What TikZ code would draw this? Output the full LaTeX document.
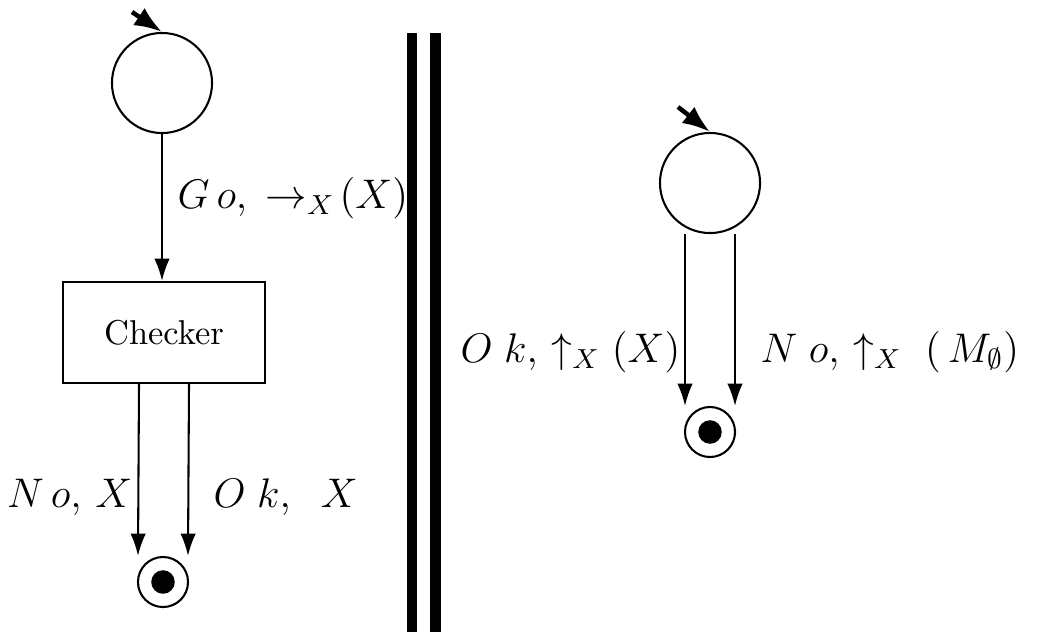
\documentclass[tikz,border=0pt]{standalone}
\usepackage{amsmath}
\usepackage{amssymb}
\usepackage{tikz}
\usetikzlibrary{calc, arrows.meta}

\begin{document}
\begin{tikzpicture}[x=0.0102cm, y=-0.0102cm,
    state/.style={draw, circle, line width=0.6pt, minimum size=1.02cm, inner sep=0pt},
    finalstate/.style={draw, circle, line width=0.6pt, minimum size=0.51cm, inner sep=0pt,
        path picture={\fill (path picture bounding box.center) circle (0.12cm);}},
    checkbox/.style={draw, rectangle, line width=0.6pt, minimum width=2.06cm, minimum height=1.03cm},
    trans/.style={-{Latex[length=6.5pt,width=4.5pt]}, line width=0.6pt},
    initarrow/.style={-{Latex[length=8pt,width=6pt]}, line width=1.3pt},
    lbl/.style={font=\large, inner sep=0pt}]
    \useasboundingbox (0,0) rectangle (1038,634);
    % Left automaton: initial state, checker box, final state
    \node[state] (s1) at (162,83) {};
    \node[checkbox] (chk) at (164,332.5) {Checker};
    \node[finalstate] (f1) at (163,582) {};
    \coordinate (in1) at (132,12);
    \draw[initarrow] (in1) -- (s1.north);
    \draw[trans] (s1.south) -- (s1.south |- chk.north);
    \draw[trans] ($(chk.south)+(-25,0)$) -- ($(f1.north)+(-25,0)$);
    \draw[trans] ($(chk.south)+(25,0)$) -- ($(f1.north)+(25,0)$);
    \node[lbl, anchor=west] (lgo) at (177,198) {$G\,o,\;\rightarrow_{X}\!(X)$};
    \node[lbl, anchor=east] (lno1) at (133,497) {$N\,o,\,X$};
    \node[lbl, anchor=west] (lok1) at (213,497) {$O\;k,\;\;X$};
    % Parallel composition bars
    \fill (407,33) rectangle (417,632);
    \fill (430,33) rectangle (441,632);
    % Right automaton
    \node[state] (s2) at (710,183) {};
    \node[finalstate] (f2) at (710,432) {};
    \coordinate (in2) at (678,107);
    \draw[initarrow] (in2) -- (s2.north);
    \draw[trans] ($(s2.south)+(-25,0)$) -- ($(f2.north)+(-25,0)$);
    \draw[trans] ($(s2.south)+(25,0)$) -- ($(f2.north)+(25,0)$);
    \node[lbl, anchor=west] (lok2) at (460,352) {$O\;k,\,\uparrow_{X}(X)$};
    \node[lbl, anchor=west] (lno2) at (760,352) {$N\;o,\,\uparrow_{X}\;(\,M_{\emptyset})$};
\end{tikzpicture}
\end{document}
